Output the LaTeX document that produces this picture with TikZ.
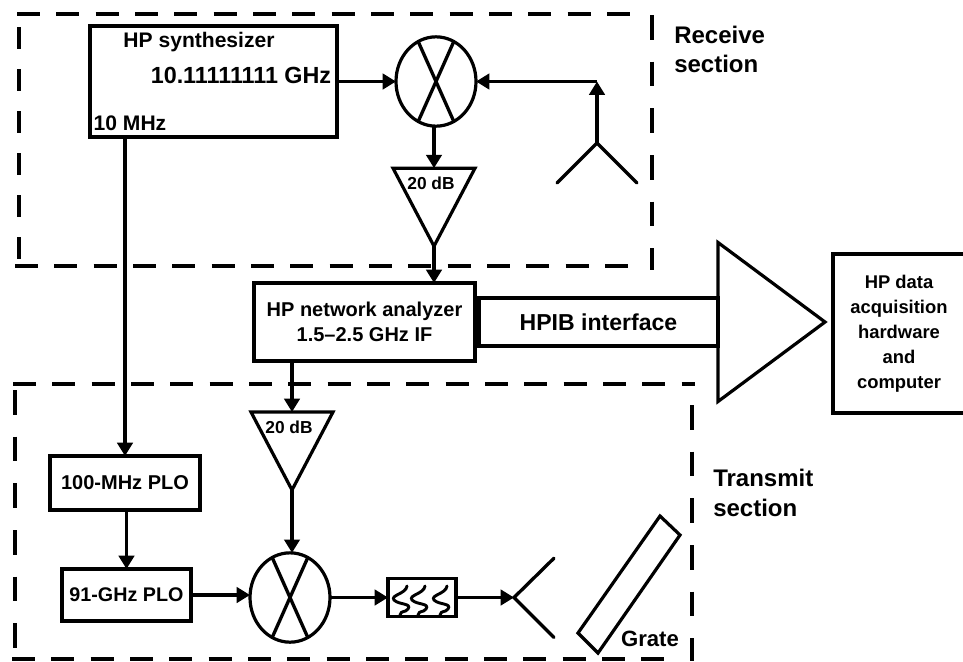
\documentclass[tikz,border=0pt]{standalone}
\usepackage{fontspec}
\setmainfont{Liberation Sans}
\usetikzlibrary{positioning}
\usetikzlibrary{arrows.meta}
\usetikzlibrary{shapes.geometric}

\tikzset{
    sig/.style={line width=2.5pt, -{Triangle[length=10pt,width=11.5pt]}},
    wire/.style={line width=2.5pt, line cap=round},
    hdash/.style={line width=2.3pt, dash pattern=on 17.25pt off 12.25pt},
    vdash/.style={line width=2.3pt, dash pattern=on 18.5pt off 16.5pt},
    block/.style={draw, line width=2.6pt, inner sep=0pt, outer sep=0pt, align=center, font=\bfseries\fontsize{15}{19}\selectfont},
    label/.style={inner sep=0pt, align=left, font=\bfseries\fontsize{15.8}{19}\selectfont},
    sectlabel/.style={inner sep=0pt, anchor=west, font=\bfseries\fontsize{18}{22}\selectfont},
    gain/.style={inner sep=0pt, font=\bfseries\fontsize{13}{15}\selectfont},
    mixer/.style={draw, ellipse, line width=2.4pt, inner sep=0pt, outer sep=0pt, minimum width=60pt, minimum height=67pt},
    amp/.style={draw, isosceles triangle, isosceles triangle stretches, shape border rotate=-90, line width=2.4pt, inner sep=0pt, outer sep=0pt, minimum height=58.5pt, minimum width=61.5pt},
}

\begin{document}
\begin{tikzpicture}[x=0.75pt, y=-0.75pt]
    \useasboundingbox (0,0) rectangle (963,661);

    % receive section
    \node [block, minimum width=185.25pt, minimum height=83.25pt] (synth) at (213.5,81.5) {};
    \node [label] (synthname) at (199,42) {HP synthesizer};
    \node [label, font=\bfseries\fontsize{17.5}{19}\selectfont] (synthfreq) at (241,75) {10.11111111 GHz};
    \node [label] (synthref) at (130,123) {10 MHz};
    \node [mixer, right=44.25pt of synth] (mixrx) {};
    \node [amp, below=31.5pt of mixrx, xshift=-1.5pt] (amprx) {};
    \node [gain] (amprxgain) at (431,183) {20 dB};
    \coordinate (antrx) at (597,143);
    \coordinate [below left=30pt and 30pt of antrx] (antrxl);
    \coordinate [below right=30pt and 30pt of antrx] (antrxr);
    \node [sectlabel] (rxname) at (674,35) {Receive};
    \node [sectlabel] (rxname2) at (674,64) {section};

    % analyzer and data path
    \node [block, minimum width=165.75pt, minimum height=58.5pt] (analyzer) at (364.5,322) {HP network analyzer\\1.5–2.5 GHz IF};
    \node [block, right=3pt of analyzer, minimum width=179.25pt, minimum height=36pt, font=\bfseries\fontsize{17.3}{19}\selectfont] (hpib) {HPIB interface};
    \node [draw, isosceles triangle, isosceles triangle stretches, line width=2.4pt, inner sep=0pt, outer sep=0pt, minimum height=80.25pt, minimum width=119.25pt, right=0pt of hpib] (driver) {};
    \node [block, minimum width=99pt, minimum height=119.25pt, font=\bfseries\fontsize{13.8}{18.8}\selectfont] (daq) at (899,333.5) {HP data\\acquisition\\hardware\\and\\computer};

    % transmit section
    \node [block, minimum width=112.5pt, minimum height=40.5pt] (plohund) at (125,483) {100-MHz PLO};
    \node [block, minimum width=96.75pt, minimum height=39pt, font=\bfseries\fontsize{14.8}{19}\selectfont] (plonine) at (126.5,595) {91-GHz PLO};
    \node [mixer] (mixtx) at (290,597.5) {};
    \node [amp, anchor=north] (amptx) at (292,412) {};
    \node [gain] (amptxgain) at (289,427) {20 dB};
    \node [draw, line width=2.6pt, inner sep=0pt, outer sep=0pt, minimum width=51pt, minimum height=28.5pt, right=43.5pt of mixtx] (filter) {};
    \coordinate [right=43.5pt of filter] (anttx);
    \coordinate [above right=29.5pt and 30pt of anttx] (anttxu);
    \coordinate [below right=30pt and 30pt of anttx] (anttxd);
    \node [label, font=\bfseries\fontsize{16.6}{19}\selectfont] (gratename) at (650,639) {Grate};
    \node [sectlabel] (txname) at (713,478) {Transmit};
    \node [sectlabel] (txname2) at (713,508) {section};

    % section outlines
    \draw [hdash] (17,14) -- (639,14);
    \draw [hdash] (15,266) -- (634,266);
    \draw [vdash, dash pattern=on 16.5pt off 15pt] (19,27) -- (19,261);
    \draw [vdash] (652,15) -- (652,270);
    \draw [hdash] (13,384) -- (695,384);
    \draw [hdash] (12,659) -- (674,659);
    \draw [vdash] (15,390) -- (15,650);
    \draw [vdash] (692,405) -- (692,661);

    % crossed mixers
    \foreach \mix in {mixrx, mixtx} {
        \draw [wire] (\mix.66) -- (\mix.246);
        \draw [wire] (\mix.114) -- (\mix.294);
    }

    % connections
    \draw [sig] (synth.east) -- (mixrx.west);
    \draw [sig] (antrx |- mixrx.east) -- (mixrx.east);
    \draw [sig] (antrx) -- (antrx |- mixrx.east);
    \draw [wire] (antrxl) -- (antrx) -- (antrxr);
    \draw [sig] (amprx.north |- mixrx.south) -- (amprx.north);
    \draw [sig] (amprx.apex) -- (amprx.apex |- analyzer.north);
    \draw [sig] (amptx.north |- analyzer.south) -- (amptx.north);
    \draw [sig] (amptx.apex) -- (amptx.apex |- mixtx.north);
    \draw [sig] (synth.south -| plohund.north) -- (plohund.north);
    \draw [sig] (plohund.south -| plonine.north) -- (plonine.north);
    \draw [sig] (plonine.east) -- (plonine.east -| mixtx.west);
    \draw [sig] (mixtx.east) -- (mixtx.east -| filter.west);
    \draw [sig] (filter.east) -- (anttx);
    \draw [wire] (anttxu) -- (anttx) -- (anttxd);

    % filter squiggles
    \foreach \sx in {401, 419, 441} {
        \draw [wire, line width=2.2pt] (\sx+6,586) .. controls (\sx+5,594) and (\sx-11,595) .. (\sx-7,600) .. controls (\sx-2,605) and (\sx+11,603) .. (\sx+7,609) .. controls (\sx+4,613) and (\sx,610) .. (\sx-1,615);
    }

    % grate
    \draw [line width=2.4pt, line join=miter] (660,516) -- (680,535) -- (598,653) -- (578,633) -- cycle;
\end{tikzpicture}
\end{document}
